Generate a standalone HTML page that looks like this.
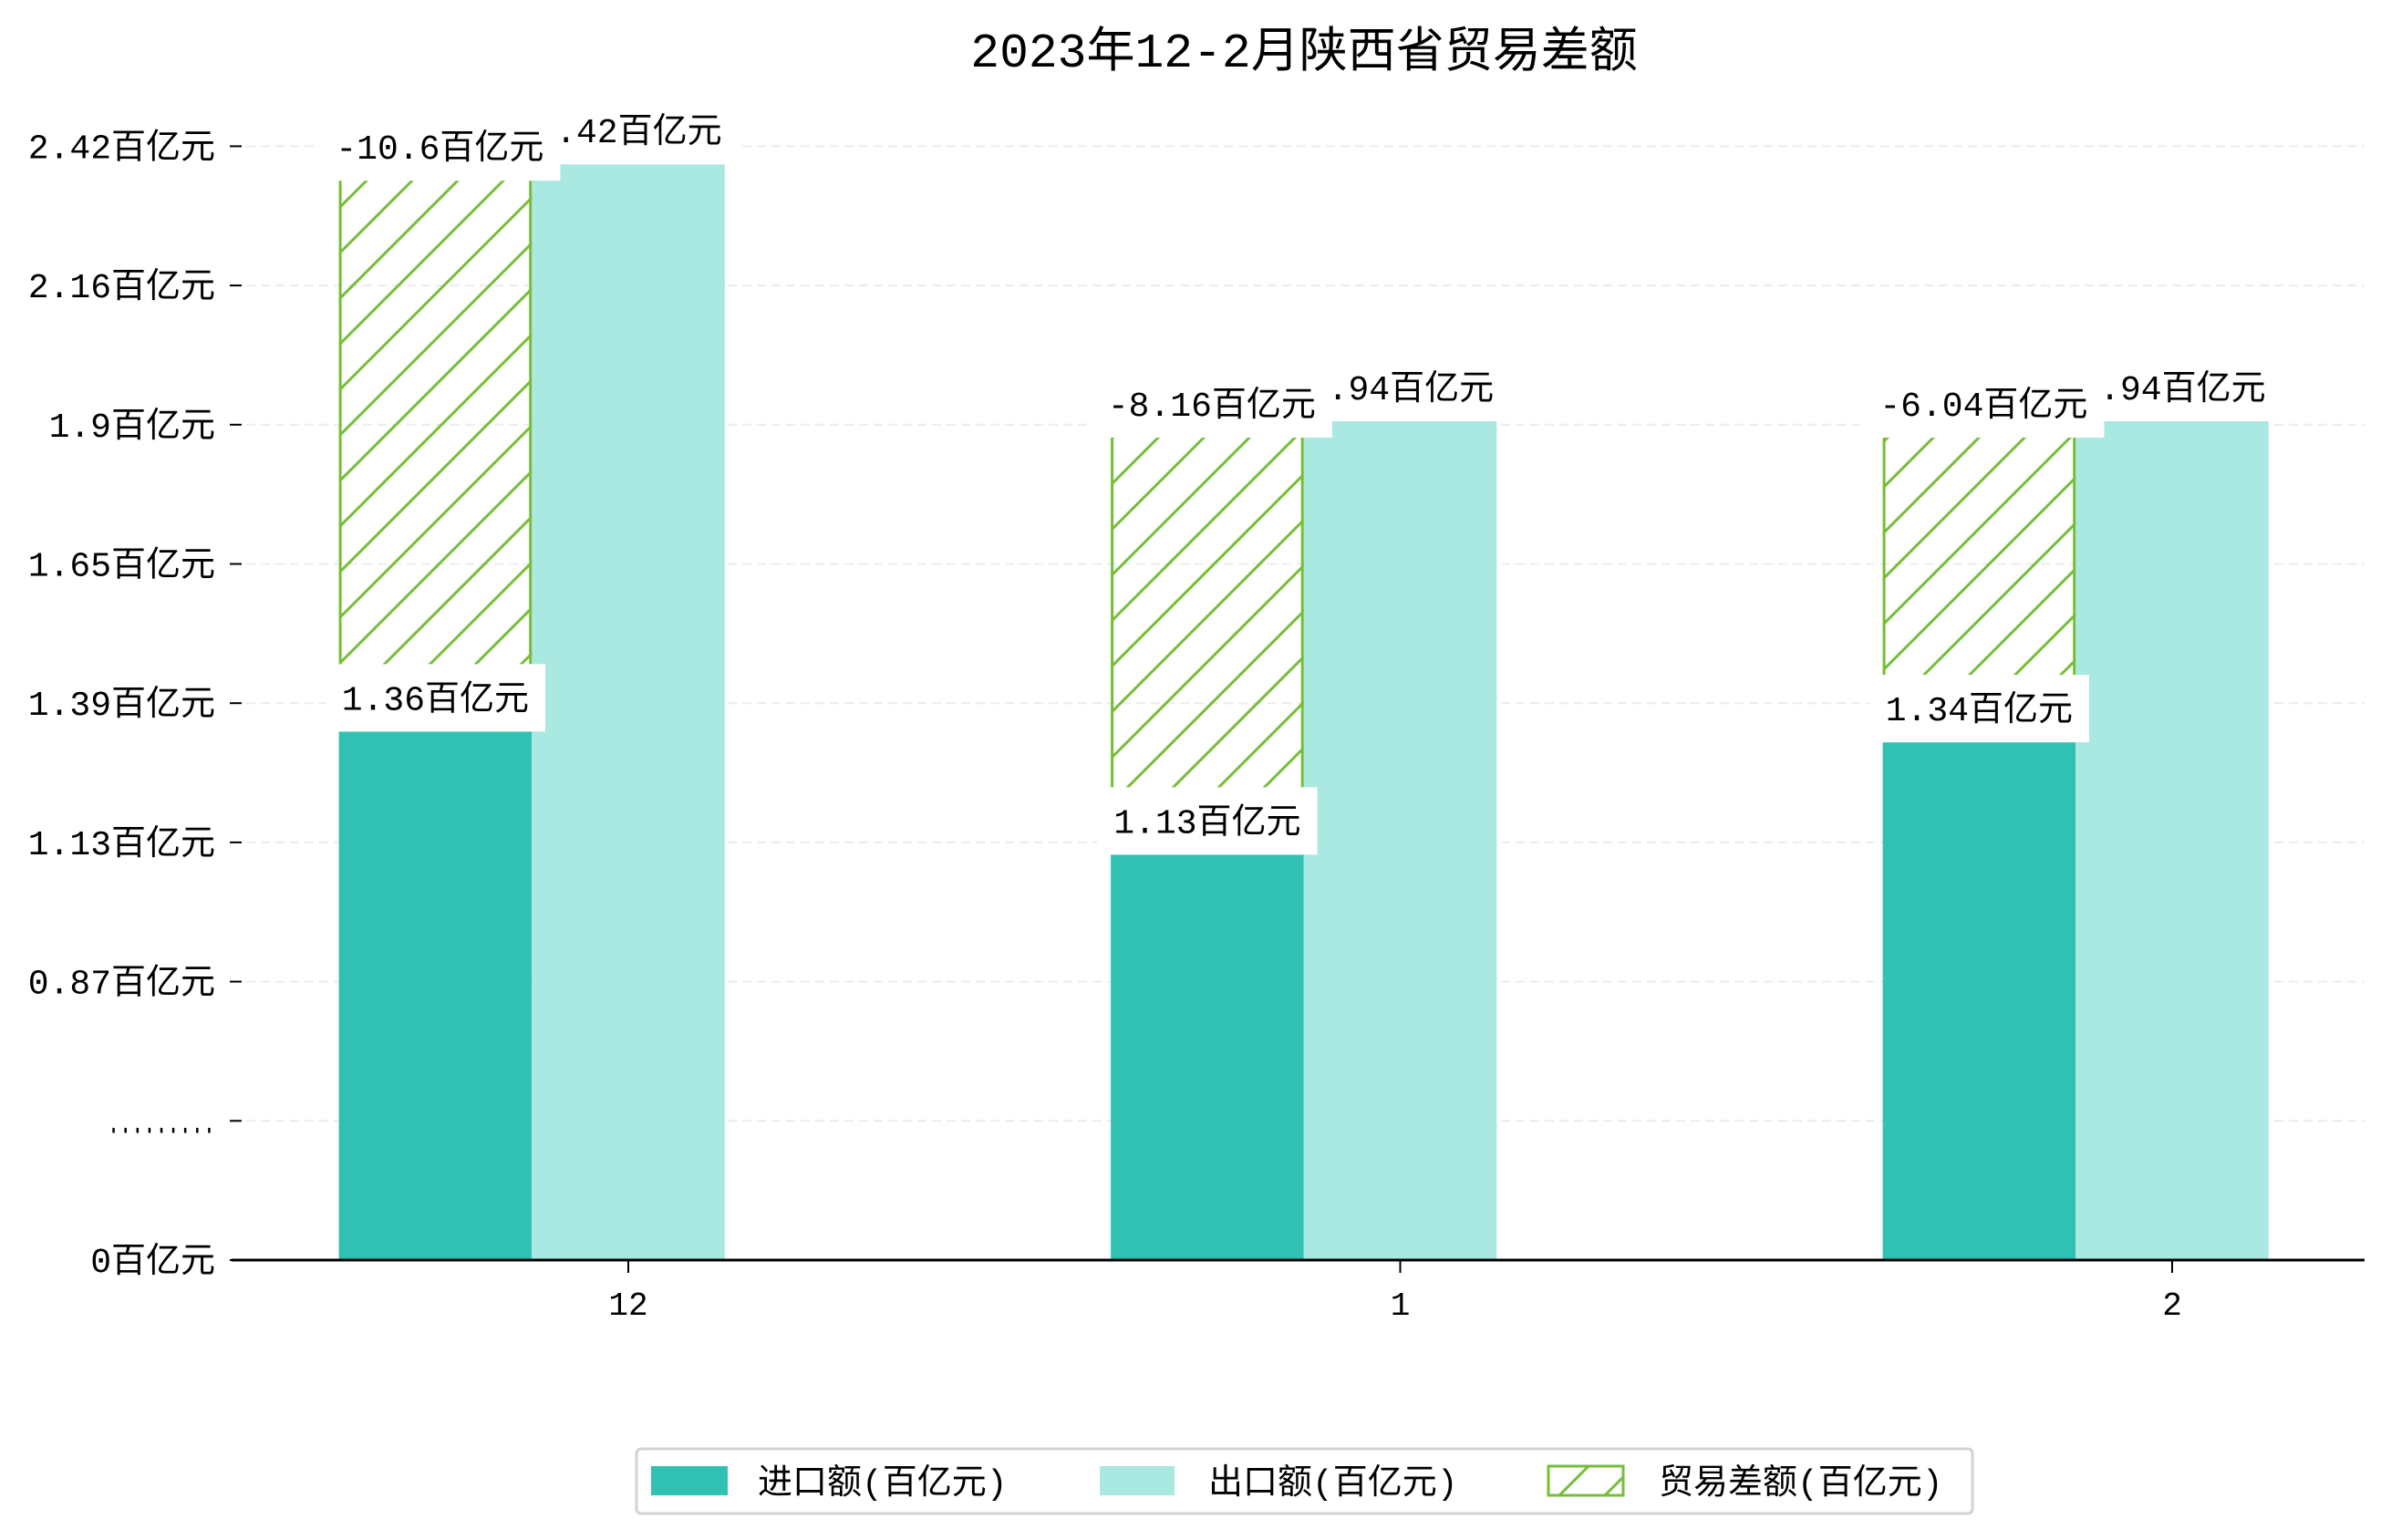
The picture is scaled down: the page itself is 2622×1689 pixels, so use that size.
<!DOCTYPE html>
<html><head><meta charset="utf-8"><style>
html,body{margin:0;padding:0;background:#fff;}
svg{display:block;font-family:"Liberation Mono","Noto Sans CJK SC",monospace;}
</style></head><body>
<svg id="chart" width="2622" height="1689" viewBox="0 0 2622 1689" xmlns="http://www.w3.org/2000/svg">
<defs>
<pattern id="hatch" patternUnits="userSpaceOnUse" width="50" height="50">
<path d="M-10,60 L60,-10 M-10,10 L10,-10 M40,60 L60,40" stroke="#76be3a" stroke-width="3"/>
</pattern>
</defs>
<text x="1430" y="73" text-anchor="middle" font-size="53">2023年12-2月陕西省贸易差额</text>
<g id="grid"></g>
<g id="bars"></g>
<g id="labels"></g>
<g id="axes"></g>
<g>
<rect x="698" y="1589" width="1465" height="71" rx="5" fill="#fff" stroke="#d3d3d3" stroke-width="3"/>
<rect x="714" y="1608" width="84" height="32" fill="#31c1b3"/>
<text x="831" y="1638" font-size="38">进口额(百亿元)</text>
<rect x="1206" y="1608" width="82" height="32" fill="#aae8e2"/>
<text x="1325" y="1638" font-size="38">出口额(百亿元)</text>
<rect x="1698" y="1608" width="82" height="32" fill="url(#hatch)" stroke="#76be3a" stroke-width="3"/>
<text x="1819" y="1638" font-size="38">贸易差额(百亿元)</text>
</g>
</svg>
<script>
const categories = ["12", "1", "2"];
const imports = [1.36, 1.13, 1.34];
const exports = [2.42, 1.94, 1.94];
const balances = [-10.6, -8.16, -6.04];
const importLabels = ["1.36百亿元", "1.13百亿元", "1.34百亿元"];
const exportLabels = ["2.42百亿元", "1.94百亿元", "1.94百亿元"];
const balanceLabels = ["-10.6百亿元", "-8.16百亿元", "-6.04百亿元"];
const tickLabels = ["0百亿元", ".........", "0.87百亿元", "1.13百亿元", "1.39百亿元", "1.65百亿元", "1.9百亿元", "2.16百亿元", "2.42百亿元"];

const NS = "http://www.w3.org/2000/svg";
const baseY = 1382, tickStep = 152.7, left = 254, right = 2593;
const bw = 211.6;
function yVal(v){ return 1077 - (v - 0.87) * 587 + 13; }
function xCenter(i){ return 689 + i * 846.5; }
function mk(tag, attrs, parent){
  const e = document.createElementNS(NS, tag);
  for (const k in attrs) e.setAttribute(k, attrs[k]);
  parent.appendChild(e);
  return e;
}
const grid = document.getElementById('grid');
const bars = document.getElementById('bars');
const labels = document.getElementById('labels');
const axes = document.getElementById('axes');

tickLabels.forEach((t, i) => {
  const y = baseY - i * tickStep;
  if (i > 0) {
    const g = mk('line', {x1: left, x2: right, y1: y, y2: y, stroke: '#ececec', 'stroke-width': 2, 'stroke-dasharray': '10,6'}, grid);
    
    
  }
  const tm = mk('line', {x1: 252, x2: 265, y1: y, y2: y, stroke: '#000', 'stroke-width': 2}, axes);
  
  
  const tl = mk('text', {x: 236, y: y + 13, 'text-anchor': 'end', 'font-size': 38}, axes);
  tl.textContent = t;
  if (/^\.+$/.test(t)) {
    tl.setAttribute('textLength', 118);
    tl.setAttribute('lengthAdjust', 'spacingAndGlyphs');
  }
  
  
});

function boxLabel(text, cx, bottom, name){
  const r = mk('rect', {y: bottom - 74, height: 74, fill: '#fff'}, labels);
  
  
  const t = mk('text', {x: cx, y: bottom - 24, 'text-anchor': 'middle', 'font-size': 38}, labels);
  t.textContent = text;
  
  
  let w = 0;
  try { w = t.getComputedTextLength(); } catch (e) { w = text.length * 25; }
  if (!w) w = text.length * 25;
  w += 36;
  r.setAttribute('x', cx - w / 2);
  r.setAttribute('width', w);
}

categories.forEach((c, i) => {
  const cx = xCenter(i);
  const ix = cx - 1.5 * bw, ex = cx - 0.5 * bw;
  const yi = yVal(imports[i]), ye = yVal(exports[i]);
  const b1 = mk('rect', {x: ix, y: yi, width: bw, height: baseY - yi, fill: '#31c1b3'}, bars);
  
  
  const b2 = mk('rect', {x: ex, y: ye, width: bw, height: baseY - ye, fill: '#aae8e2'}, bars);
  
  
  const hTop = ye + 18;
  const b3 = mk('rect', {x: ix, y: hTop, width: bw, height: yi - hTop, fill: 'url(#hatch)'}, bars);
  
  
  [ix + 1.5, ix + bw - 1.5].forEach(xx => {
    const s = mk('line', {x1: xx, x2: xx, y1: hTop, y2: yi, stroke: '#76be3a', 'stroke-width': 3}, bars);
    
    
  });
  boxLabel(importLabels[i], ix + bw / 2, yi, 'import-value-label');
  boxLabel(exportLabels[i], ex + bw / 2, ye, 'export-value-label');
  boxLabel(balanceLabels[i], ix + bw / 2 + 5, hTop, 'balance-value-label');
  const xt = mk('line', {x1: cx, x2: cx, y1: baseY, y2: baseY + 14, stroke: '#000', 'stroke-width': 2}, axes);
  
  
  const xl = mk('text', {x: cx, y: 1442, 'text-anchor': 'middle', 'font-size': 36}, axes);
  xl.textContent = c;
  
  
});
const ax = mk('line', {x1: left, x2: right, y1: baseY, y2: baseY, stroke: '#000', 'stroke-width': 3}, axes);


</script>
</body></html>
